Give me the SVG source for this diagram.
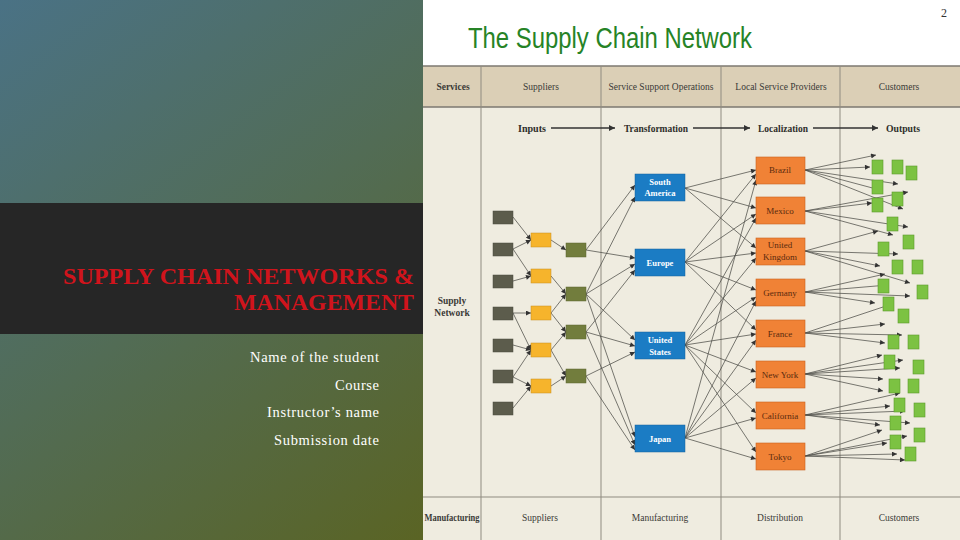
<svg xmlns="http://www.w3.org/2000/svg" width="960" height="540" viewBox="0 0 960 540">
<defs>
<linearGradient id="bg" gradientUnits="userSpaceOnUse" x1="0" y1="0" x2="423" y2="540">
<stop offset="0" stop-color="#4a7285"/>
<stop offset="0.5" stop-color="#526c55"/>
<stop offset="1" stop-color="#5a6424"/>
</linearGradient>
<marker id="ah" viewBox="0 0 10 10" refX="10" refY="5" markerWidth="6" markerHeight="5" markerUnits="userSpaceOnUse" orient="auto">
<path d="M0,0 L10,5 L0,10 z" fill="#333"/>
</marker>
<marker id="ahb" viewBox="0 0 10 10" refX="10" refY="5" markerWidth="9" markerHeight="6" markerUnits="userSpaceOnUse" orient="auto">
<path d="M0,0 L10,5 L0,10 z" fill="#333"/>
</marker>
</defs>
<style>
.serif{font-family:"Liberation Serif","Times New Roman",serif}
.hd{font-family:"Liberation Serif",serif;font-size:9.5px;fill:#3a3a36;text-anchor:middle}
.flow{font-family:"Liberation Serif",serif;font-size:10px;font-weight:bold;fill:#2e2e2a}
.dk{fill:#5c5c4c;stroke:#4a4a3e;stroke-width:0.5}
.ye{fill:#f6b42c;stroke:#c78d1c;stroke-width:0.5}
.ol{fill:#727d3d;stroke:#5c6630;stroke-width:0.5}
.bl{fill:#1b7cc4;stroke:#14609a;stroke-width:0.5}
.bt{font-family:"Liberation Serif",serif;font-size:8.5px;font-weight:bold;fill:#fff;text-anchor:middle}
.or{fill:#f08236;stroke:#c9621f;stroke-width:0.6}
.ot{font-family:"Liberation Serif",serif;font-size:9px;fill:#5a2a0e;text-anchor:middle}
.gr{fill:#7cc242;stroke:#5c9a2c;stroke-width:0.6}
.c{stroke:#4e4e48;stroke-width:0.75;fill:none;marker-end:url(#ah)}
.grid{stroke:#8f8b80;stroke-width:1;fill:none}
.sub{font-family:"Liberation Serif",serif;font-size:14.5px;fill:#ffffff}
</style>

<!-- left background -->
<rect x="0" y="0" width="423" height="540" fill="url(#bg)"/>
<rect x="0" y="203" width="423" height="131" fill="#262626"/>
<g id="title-left" class="serif" font-weight="bold" font-size="23" fill="#d0141c">
<text x="63" y="284" textLength="351" lengthAdjust="spacingAndGlyphs">SUPPLY CHAIN NETWORKS &amp;</text>
<text x="234" y="310" textLength="180" lengthAdjust="spacingAndGlyphs">MANAGEMENT</text>
</g>
<g id="subtitle">
<text class="sub" x="250" y="362" textLength="129" lengthAdjust="spacing">Name of the student</text>
<text class="sub" x="335" y="390" textLength="44" lengthAdjust="spacing">Course</text>
<text class="sub" x="267" y="417" textLength="112" lengthAdjust="spacing">Instructor’s name</text>
<text class="sub" x="274" y="445" textLength="105" lengthAdjust="spacing">Submission date</text>
</g>

<!-- right panel -->
<rect x="423" y="0" width="537" height="540" fill="#ffffff"/>
<text x="944" y="17" class="serif" font-size="12" fill="#333" text-anchor="middle">2</text>
<text x="468" y="48" font-family="'Liberation Sans',Arial,sans-serif" font-size="29" fill="#268326" textLength="284" lengthAdjust="spacingAndGlyphs">The Supply Chain Network</text>
<rect x="423" y="66" width="537" height="41" fill="#dbcfb6"/>
<rect x="423" y="107" width="537" height="433" fill="#efece0"/>
<g id="grid" class="grid">
<line x1="423" y1="66" x2="960" y2="66" stroke="#7d7870" stroke-width="1.5"/>
<line x1="423" y1="107" x2="960" y2="107" stroke="#7d7870" stroke-width="1.5"/>
<line x1="423" y1="497" x2="960" y2="497"/>
<line x1="481" y1="66" x2="481" y2="540"/>
<line x1="601" y1="66" x2="601" y2="540"/>
<line x1="721" y1="66" x2="721" y2="540"/>
<line x1="840" y1="66" x2="840" y2="540"/>
</g>
<g id="header">
<text class="hd" x="453" y="90" font-weight="bold">Services</text>
<text class="hd" x="541" y="90">Suppliers</text>
<text class="hd" x="661" y="90">Service Support Operations</text>
<text class="hd" x="781" y="90">Local Service Providers</text>
<text class="hd" x="899" y="90">Customers</text>
</g>
<g id="footer">
<text class="hd" x="452" y="521" font-weight="bold" textLength="55" lengthAdjust="spacingAndGlyphs">Manufacturing</text>
<text class="hd" x="540" y="521">Suppliers</text>
<text class="hd" x="660" y="521">Manufacturing</text>
<text class="hd" x="780" y="521">Distribution</text>
<text class="hd" x="899" y="521">Customers</text>
</g>
<g id="supply-network-label">
<text class="hd" x="452" y="304" font-weight="bold">Supply</text>
<text class="hd" x="452" y="316" font-weight="bold">Network</text>
</g>
<g id="flow-labels">
<text class="flow" x="518" y="132" textLength="28" lengthAdjust="spacingAndGlyphs">Inputs</text>
<text class="flow" x="624" y="132" textLength="64" lengthAdjust="spacingAndGlyphs">Transformation</text>
<text class="flow" x="758" y="132" textLength="50" lengthAdjust="spacingAndGlyphs">Localization</text>
<text class="flow" x="886" y="132" textLength="34" lengthAdjust="spacingAndGlyphs">Outputs</text>
</g>

<g id="connectors">
<g stroke="#333" stroke-width="1.3" marker-end="url(#ahb)">
<line x1="551" y1="128" x2="615" y2="128"/>
<line x1="693" y1="128" x2="750" y2="128"/>
<line x1="813" y1="128" x2="878" y2="128"/>
</g>
<!-- dark -> yellow -->
<path class="c" d="M513,217 L531,240"/>
<path class="c" d="M513,249 L531,240"/>
<path class="c" d="M513,249 L531,276"/>
<path class="c" d="M513,281 L531,276"/>
<path class="c" d="M513,313 L531,313"/>
<path class="c" d="M513,313 L531,350"/>
<path class="c" d="M513,345 L531,350"/>
<path class="c" d="M513,377 L531,350"/>
<path class="c" d="M513,377 L531,386"/>
<path class="c" d="M513,408 L531,386"/>
<!-- yellow -> olive -->
<path class="c" d="M551,240 L566,250"/>
<path class="c" d="M551,276 L566,294"/>
<path class="c" d="M551,313 L566,294"/>
<path class="c" d="M551,313 L566,332"/>
<path class="c" d="M551,350 L566,332"/>
<path class="c" d="M551,350 L566,376"/>
<path class="c" d="M551,386 L566,376"/>
<!-- olive -> blue -->
<path class="c" d="M586,250 L635,185"/>
<path class="c" d="M586,250 L635,258"/>
<path class="c" d="M586,294 L635,197"/>
<path class="c" d="M586,294 L635,264"/>
<path class="c" d="M586,294 L635,340"/>
<path class="c" d="M586,294 L635,437"/>
<path class="c" d="M586,332 L635,270"/>
<path class="c" d="M586,332 L635,346"/>
<path class="c" d="M586,332 L635,445"/>
<path class="c" d="M586,376 L635,352"/>
<path class="c" d="M586,376 L635,450"/>
<!-- blue -> orange -->
<path class="c" d="M685,188 L756,170"/>
<path class="c" d="M685,188 L756,208"/>
<path class="c" d="M685,188 L756,248"/>
<path class="c" d="M685,262 L756,174"/>
<path class="c" d="M685,262 L756,214"/>
<path class="c" d="M685,262 L756,253"/>
<path class="c" d="M685,262 L756,290"/>
<path class="c" d="M685,262 L756,330"/>
<path class="c" d="M685,345 L756,218"/>
<path class="c" d="M685,345 L756,258"/>
<path class="c" d="M685,345 L756,297"/>
<path class="c" d="M685,345 L756,334"/>
<path class="c" d="M685,345 L756,372"/>
<path class="c" d="M685,345 L756,413"/>
<path class="c" d="M685,345 L756,452"/>
<path class="c" d="M685,438 L756,180"/>
<path class="c" d="M685,438 L756,301"/>
<path class="c" d="M685,438 L756,340"/>
<path class="c" d="M685,438 L756,378"/>
<path class="c" d="M685,438 L756,418"/>
<path class="c" d="M685,438 L756,459"/>
<!-- orange -> customers -->
<path class="c" d="M805,170 L876,155"/>
<path class="c" d="M805,170 L870,167"/>
<path class="c" d="M805,170 L898,184"/>
<path class="c" d="M805,170 L880,190"/>
<path class="c" d="M805,170 L903,209"/>
<path class="c" d="M805,211 L908,192"/>
<path class="c" d="M805,211 L872,203"/>
<path class="c" d="M805,211 L908,227"/>
<path class="c" d="M805,211 L893,235"/>
<path class="c" d="M805,251 L878,231"/>
<path class="c" d="M805,251 L898,254"/>
<path class="c" d="M805,251 L880,266"/>
<path class="c" d="M805,251 L910,283"/>
<path class="c" d="M805,292 L885,274"/>
<path class="c" d="M805,292 L888,285"/>
<path class="c" d="M805,292 L910,296"/>
<path class="c" d="M805,292 L875,303"/>
<path class="c" d="M805,333 L892,304"/>
<path class="c" d="M805,333 L885,324"/>
<path class="c" d="M805,333 L902,335"/>
<path class="c" d="M805,333 L885,343"/>
<path class="c" d="M805,374 L882,355"/>
<path class="c" d="M805,374 L903,360"/>
<path class="c" d="M805,374 L900,368"/>
<path class="c" d="M805,374 L883,379"/>
<path class="c" d="M805,374 L883,391"/>
<path class="c" d="M805,415 L900,393"/>
<path class="c" d="M805,415 L890,406"/>
<path class="c" d="M805,415 L905,411"/>
<path class="c" d="M805,415 L910,423"/>
<path class="c" d="M805,415 L880,425"/>
<path class="c" d="M805,456 L882,430"/>
<path class="c" d="M805,456 L907,436"/>
<path class="c" d="M805,456 L887,443"/>
<path class="c" d="M805,456 L897,454"/>
<path class="c" d="M805,456 L905,460"/>
</g>

<!-- supplier tiers -->
<g id="tier1">
<rect id="d1" class="dk" x="493" y="211" width="20" height="13"/>
<rect id="d2" class="dk" x="493" y="243" width="20" height="13"/>
<rect id="d3" class="dk" x="493" y="275" width="20" height="13"/>
<rect id="d4" class="dk" x="493" y="307" width="20" height="13"/>
<rect id="d5" class="dk" x="493" y="339" width="20" height="13"/>
<rect id="d6" class="dk" x="493" y="370" width="20" height="13"/>
<rect id="d7" class="dk" x="493" y="402" width="20" height="13"/>
</g>
<g id="tier2">
<rect id="y1" class="ye" x="531" y="233" width="20" height="14"/>
<rect id="y2" class="ye" x="531" y="269" width="20" height="14"/>
<rect id="y3" class="ye" x="531" y="306" width="20" height="14"/>
<rect id="y4" class="ye" x="531" y="343" width="20" height="14"/>
<rect id="y5" class="ye" x="531" y="379" width="20" height="14"/>
</g>
<g id="tier3">
<rect id="o1" class="ol" x="566" y="243" width="20" height="14"/>
<rect id="o2" class="ol" x="566" y="287" width="20" height="14"/>
<rect id="o3" class="ol" x="566" y="325" width="20" height="14"/>
<rect id="o4" class="ol" x="566" y="369" width="20" height="14"/>
</g>

<!-- transformation -->
<g id="south-america"><rect class="bl" x="635" y="174" width="50" height="27"/><text class="bt" x="660" y="185">South</text><text class="bt" x="660" y="196">America</text></g>
<g id="europe"><rect class="bl" x="635" y="249" width="50" height="27"/><text class="bt" x="660" y="266">Europe</text></g>
<g id="united-states"><rect class="bl" x="635" y="332" width="50" height="27"/><text class="bt" x="660" y="343">United</text><text class="bt" x="660" y="355">States</text></g>
<g id="japan"><rect class="bl" x="635" y="425" width="50" height="27"/><text class="bt" x="660" y="442">Japan</text></g>

<!-- localization -->
<g id="brazil"><rect class="or" x="756" y="157" width="49" height="27"/><text class="ot" x="780" y="173">Brazil</text></g>
<g id="mexico"><rect class="or" x="756" y="197" width="49" height="27"/><text class="ot" x="780" y="214">Mexico</text></g>
<g id="united-kingdom"><rect class="or" x="756" y="238" width="49" height="27"/><text class="ot" x="780" y="248">United</text><text class="ot" x="780" y="260">Kingdom</text></g>
<g id="germany"><rect class="or" x="756" y="279" width="49" height="27"/><text class="ot" x="780" y="296">Germany</text></g>
<g id="france"><rect class="or" x="756" y="320" width="49" height="27"/><text class="ot" x="780" y="337">France</text></g>
<g id="new-york"><rect class="or" x="756" y="361" width="49" height="27"/><text class="ot" x="780" y="378">New York</text></g>
<g id="california"><rect class="or" x="756" y="402" width="49" height="27"/><text class="ot" x="780" y="419">California</text></g>
<g id="tokyo"><rect class="or" x="756" y="443" width="49" height="27"/><text class="ot" x="780" y="460">Tokyo</text></g>

<!-- customers -->
<g id="customers">
<rect class="gr" x="872" y="160" width="11" height="14"/>
<rect class="gr" x="892" y="160" width="11" height="14"/>
<rect class="gr" x="906" y="166" width="11" height="14"/>
<rect class="gr" x="872" y="180" width="11" height="14"/>
<rect class="gr" x="872" y="198" width="11" height="14"/>
<rect class="gr" x="892" y="192" width="11" height="14"/>
<rect class="gr" x="887" y="217" width="11" height="14"/>
<rect class="gr" x="903" y="235" width="11" height="14"/>
<rect class="gr" x="878" y="242" width="11" height="14"/>
<rect class="gr" x="892" y="260" width="11" height="14"/>
<rect class="gr" x="912" y="260" width="11" height="14"/>
<rect class="gr" x="878" y="279" width="11" height="14"/>
<rect class="gr" x="917" y="285" width="11" height="14"/>
<rect class="gr" x="883" y="297" width="11" height="14"/>
<rect class="gr" x="898" y="309" width="11" height="14"/>
<rect class="gr" x="888" y="335" width="11" height="14"/>
<rect class="gr" x="908" y="335" width="11" height="14"/>
<rect class="gr" x="884" y="355" width="11" height="14"/>
<rect class="gr" x="913" y="360" width="11" height="14"/>
<rect class="gr" x="889" y="379" width="11" height="14"/>
<rect class="gr" x="908" y="379" width="11" height="14"/>
<rect class="gr" x="894" y="398" width="11" height="14"/>
<rect class="gr" x="914" y="403" width="11" height="14"/>
<rect class="gr" x="890" y="416" width="11" height="14"/>
<rect class="gr" x="914" y="428" width="11" height="14"/>
<rect class="gr" x="890" y="435" width="11" height="14"/>
<rect class="gr" x="905" y="447" width="11" height="14"/>
</g>
</svg>
